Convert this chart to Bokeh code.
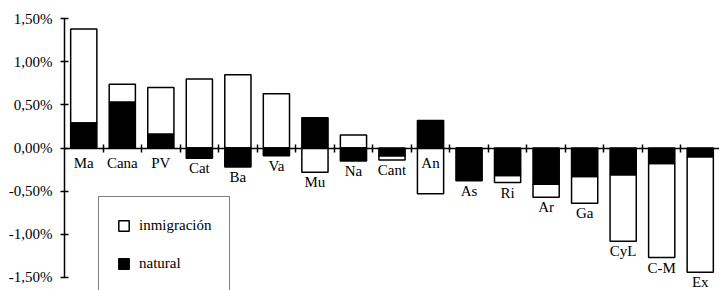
import numpy as np
from bokeh.plotting import figure
from bokeh.models import (ColumnDataSource, FixedTicker, Legend, LegendItem,
                          Range1d, LinearAxis)
from bokeh.core.properties import value
from bokeh.embed import file_html
from bokeh.resources import INLINE

# ---- data (percent) ----
regions = ["Ma", "Cana", "PV", "Cat", "Ba", "Va", "Mu", "Na", "Cant", "An",
           "As", "Ri", "Ar", "Ga", "CyL", "C-M", "Ex"]
natural = [0.29, 0.53, 0.16, -0.12, -0.22, -0.09, 0.35, -0.15, -0.09, 0.32,
           -0.38, -0.32, -0.42, -0.33, -0.31, -0.18, -0.10]
inmigracion = [1.09, 0.21, 0.54, 0.80, 0.85, 0.63, -0.28, 0.15, -0.05, -0.53,
               0.00, -0.08, -0.15, -0.31, -0.77, -1.09, -1.34]
ytick_values = [-1.5, -1.0, -0.5, 0.0, 0.5, 1.0, 1.5]
ytick_labels = ["-1,50%", "-1,00%", "-0,50%", "0,00%", "0,50%", "1,00%", "1,50%"]
series_names = ["inmigración", "natural"]
labels_at_axis = ["An"]

# ---- derived stacking (positive and negative stacks separately) ----
n = len(regions)
x = np.arange(n, dtype=float)
nat = np.array(natural)
imm = np.array(inmigracion)
same = np.sign(imm) == np.sign(nat)
imm_bottom = np.where(same, nat, 0.0)
imm_top = imm_bottom + imm
low = np.minimum.reduce([np.zeros(n), nat, imm_bottom, imm_top])
label_y = np.minimum(low, -0.06)
label_y = np.where([r in labels_at_axis for r in regions], -0.06, label_y)

src = ColumnDataSource(dict(x=x, nat=nat, imm_b=imm_bottom, imm_t=imm_top,
                            name=regions, ly=label_y))

FONT = "Liberation Serif"

p = figure(width=719, height=290, output_backend="svg", toolbar_location=None,
           x_range=Range1d(-0.5, n - 0.5), y_range=Range1d(-1.651, 1.709),
           x_axis_location=None, min_border_left=64, min_border_right=0,
           min_border_top=0, min_border_bottom=0)
p.outline_line_color = None
p.grid.visible = False
p.background_fill_color = "white"
p.border_fill_color = "white"

r_imm = p.vbar(x="x", bottom="imm_b", top="imm_t", width=0.68, source=src,
               fill_color="white", line_color="black", line_width=1.5)
r_nat = p.vbar(x="x", bottom=0, top="nat", width=0.68, source=src,
               fill_color="black", line_color="black", line_width=1.5)

p.text(x="x", y="ly", text="name", source=src, text_font=value(FONT),
       text_font_size="15px", text_align="center", text_baseline="top",
       text_color="black", y_offset=2)

# x axis at zero with ticks between categories
xticks = list(x[:-1] + 0.5)
xaxis = LinearAxis(fixed_location=0,
                   ticker=FixedTicker(ticks=xticks),
                   major_label_overrides={t: "" for t in xticks},
                   major_tick_in=4, major_tick_out=4,
                   minor_tick_line_color=None,
                   axis_line_color="black", axis_line_width=1.5,
                   major_tick_line_color="black", major_tick_line_width=1.5)
p.add_layout(xaxis, "below")

ya = p.yaxis[0]
ya.ticker = FixedTicker(ticks=ytick_values)
ya.major_label_overrides = {v: l for v, l in zip(ytick_values, ytick_labels)}
ya.bounds = (ytick_values[0], ytick_values[-1])
ya.major_tick_in = 4
ya.major_tick_out = 4
ya.minor_tick_line_color = None
ya.axis_line_color = "black"
ya.axis_line_width = 1.5
ya.major_tick_line_color = "black"
ya.major_tick_line_width = 1.5
ya.major_label_text_font = FONT
ya.major_label_text_font_size = "15px"
ya.major_label_text_color = "black"
ya.major_label_standoff = 8

legend = Legend(items=[LegendItem(label=series_names[0], renderers=[r_imm]),
                       LegendItem(label=series_names[1], renderers=[r_nat])],
                location=(34, -2), orientation="vertical",
                label_text_font=FONT, label_text_font_size="15px",
                label_text_color="black",
                glyph_width=13, glyph_height=13, label_height=20,
                spacing=18, padding=18, margin=0, label_standoff=9,
                border_line_color="black", border_line_width=1.5,
                background_fill_color="white", background_fill_alpha=1.0)
p.add_layout(legend, "center")

open("out.html", "w").write(file_html(p, INLINE))
